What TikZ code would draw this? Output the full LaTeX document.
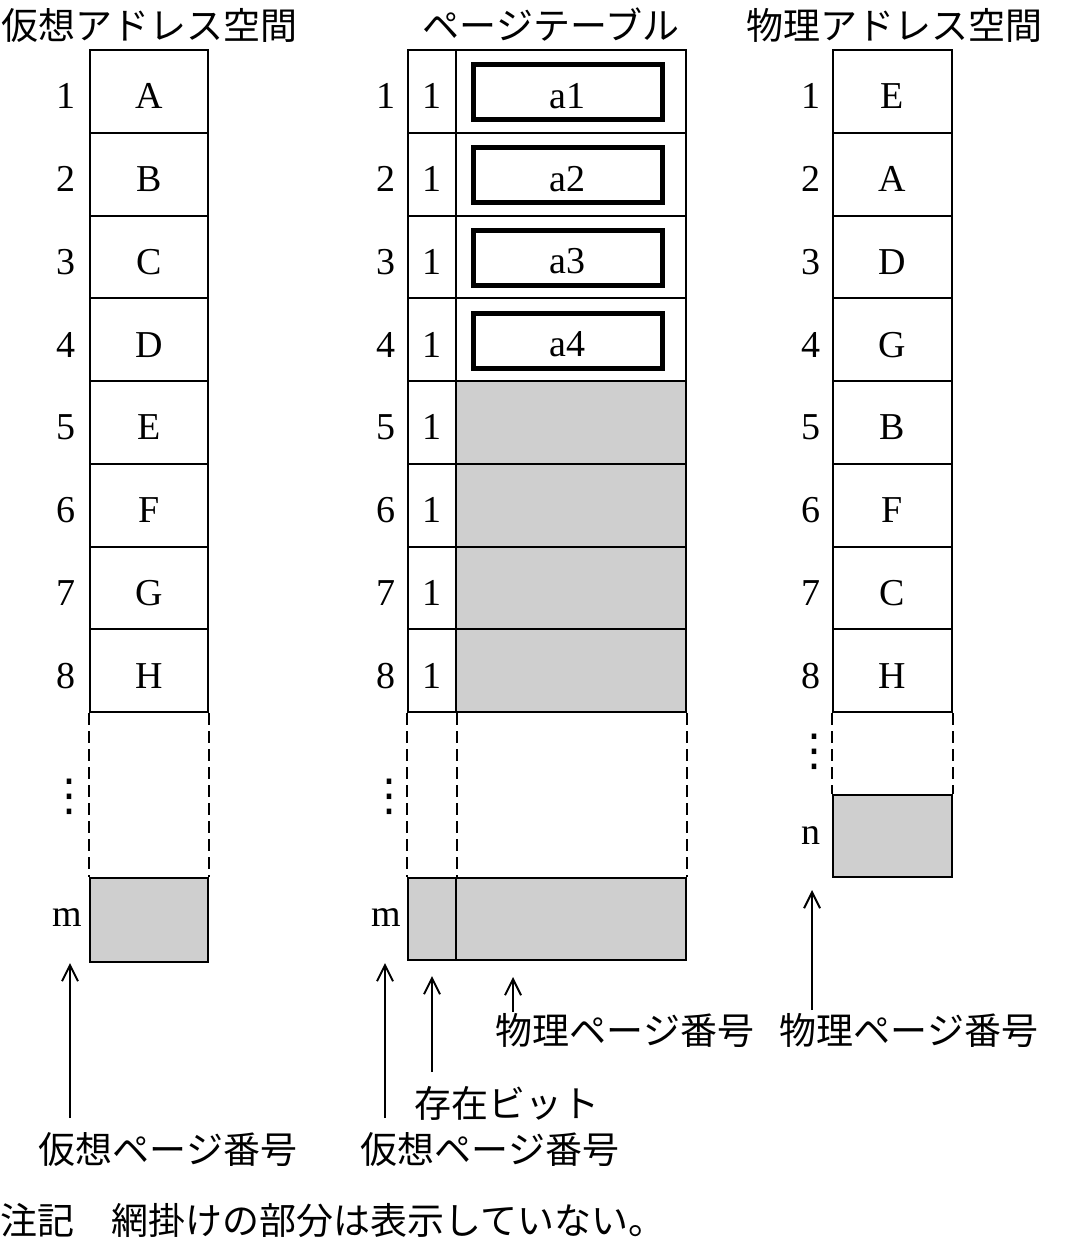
\documentclass[tikz,border=0pt]{standalone}
\usepackage{fontspec}
\setmainfont{Liberation Serif}
\newfontfamily\jp{Noto Sans CJK JP}
\newfontfamily\dv{DejaVu Sans}
\usetikzlibrary{arrows.meta}
\begin{document}
\begin{tikzpicture}[x=0.5pt,y=-0.5pt,
  cell/.style={draw,line width=1pt,inner sep=0,minimum width=59pt,minimum height=41.375pt,text height=17.6pt,text depth=0pt,font=\fontsize{19}{19}\selectfont},
  bitcell/.style={cell,minimum width=24pt},
  ppcell/.style={cell,minimum width=115pt},
  inbox/.style={draw,line width=2.5pt,inner sep=0,minimum width=94.5pt,minimum height=27.5pt,text height=16pt,text depth=0pt,font=\fontsize{19}{19}\selectfont},
  shade/.style={fill=black!19},
  num/.style={inner sep=0,text height=17.6pt,text depth=0pt,font=\fontsize{19}{19}\selectfont},
  vd/.style={inner sep=0,font=\dv\fontsize{22}{22}\selectfont},
  title/.style={inner sep=0,font=\jp\fontsize{18.5}{18.5}\selectfont},
  lab/.style={inner sep=0,font=\jp\fontsize{18.5}{18.5}\selectfont},
  dsh/.style={line width=1pt,dash pattern=on 6pt off 3pt},
  arr/.style={line width=1pt,-{Straight Barb[length=8pt,width=8pt,line width=1pt]}}
]
\useasboundingbox (0,0) rectangle (1067,1242);
% titles
\node[title] (t1) at (150,25) {仮想アドレス空間};
\node[title] (t2) at (551,25) {ページテーブル};
\node[title] (t3) at (894,25) {物理アドレス空間};
% virtual address space
\foreach \t [count=\i] in {A,B,C,D,E,F,G,H}{
  \node[cell] (v\i) at (149,{8.625+82.75*\i}) {\t};
  \node[num] (vn\i) at (66,{8.625+82.75*\i}) {\i};
}
\node[cell,shade,minimum height=42pt] (vm) at (149,920) {};
\node[inner sep=0,font=\fontsize{19}{19}\selectfont] (vnm) at (67,918) {m};
\node[vd] (vdots) at (69,797) {⋮};
\draw[dsh] (v8.south west) -- (vm.north west);
\draw[dsh] (v8.south east) -- (vm.north east);
% page table
\foreach \i in {1,...,8}{
  \node[bitcell] (b\i) at (432,{8.625+82.75*\i}) {1};
  \node[num] (pn\i) at (386,{8.625+82.75*\i}) {\i};
}
\foreach \i in {1,...,4}{
  \node[ppcell] (p\i) at (571,{8.625+82.75*\i}) {};
  \node[inbox] (a\i) at (567.5,{9.625+82.75*\i}) {a\i};
}
\foreach \i in {5,...,8}{
  \node[ppcell,shade] (p\i) at (571,{8.625+82.75*\i}) {};
}
\node[bitcell,shade,minimum height=41pt] (bm) at (432,919) {};
\node[ppcell,shade,minimum height=41pt] (pm) at (571,919) {};
\node[inner sep=0,font=\fontsize{19}{19}\selectfont] (pnm) at (386,918) {m};
\node[vd] (pdots) at (389,797) {⋮};
\draw[dsh] (b8.south west) -- (bm.north west);
\draw[dsh] (b8.south east) -- (bm.north east);
\draw[dsh] (p8.south east) -- (pm.north east);
% physical address space
\foreach \t [count=\i] in {E,A,D,G,B,F,C,H}{
  \node[cell,minimum width=59.5pt] (r\i) at (892.5,{8.625+82.75*\i}) {\t};
  \node[num] (rn\i) at (811,{8.625+82.75*\i}) {\i};
}
\node[cell,shade,minimum width=59.5pt,minimum height=41pt] (rn) at (892.5,836) {};
\node[inner sep=0,font=\fontsize{19}{19}\selectfont] (rnn) at (811,836) {n};
\node[vd] (rdots) at (814,752) {⋮};
\draw[dsh] (r8.south west) -- (rn.north west);
\draw[dsh] (r8.south east) -- (rn.north east);
% bottom labels and arrows
\node[lab] (l1) at (168,1150) {仮想ページ番号};
\node[lab] (l2) at (490,1150) {仮想ページ番号};
\node[lab] (l3) at (507,1103) {存在ビット};
\node[lab] (l4) at (625,1030) {物理ページ番号};
\node[lab] (l5) at (909,1030) {物理ページ番号};
\node[lab,anchor=west] (note) at (0,1220) {注記　網掛けの部分は表示していない。};
\coordinate (s1) at (70,1118); \coordinate (e1) at (70,963);
\coordinate (s2) at (385,1118); \coordinate (e2) at (385,963);
\coordinate (s3) at (432,1072); \coordinate (e3) at (432,976);
\coordinate (s4) at (513,1012); \coordinate (e4) at (513,977);
\coordinate (s5) at (812,1010); \coordinate (e5) at (812,890);
\foreach \k in {1,...,5}{\draw[arr] (s\k) -- (e\k);}
\end{tikzpicture}
\end{document}
